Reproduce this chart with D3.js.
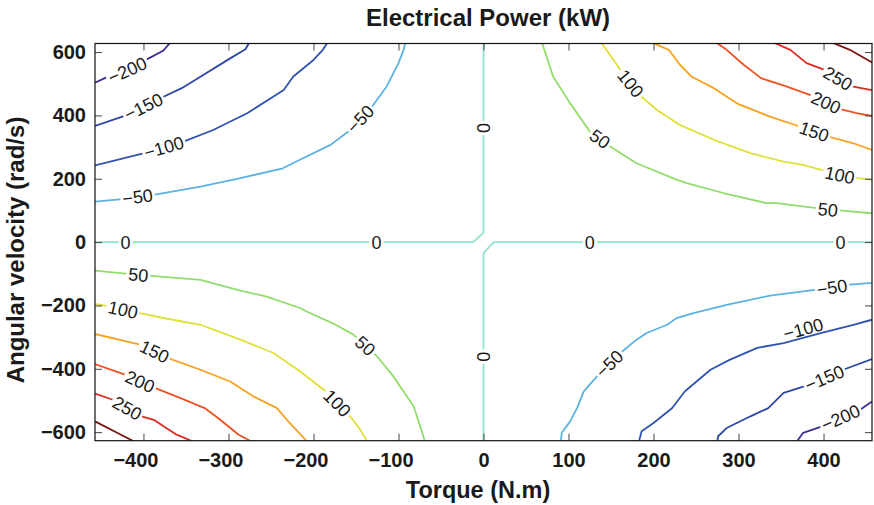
<!DOCTYPE html>
<html>
<head>
<meta charset="utf-8">
<script src="https://cdn.jsdelivr.net/npm/d3@7"></script>
<style>
  body { margin: 0; background: #fff; }
  text { font-family: "Liberation Sans", Arial, Helvetica, sans-serif; }
</style>
</head>
<body>
<svg id="chart" width="874" height="505"></svg>
<script>
// Axis extents: torque (N.m) and angular velocity (rad/s)
const torqueRange = [-457, 457];
const omegaRange = [-627, 627];
const xTicks = [-400, -300, -200, -100, 0, 100, 200, 300, 400];
const yTicks = [-600, -400, -200, 0, 200, 400, 600];

// Iso-power lines of electrical power (kW), points are [torque, omega]
// Generating quadrant: negative torque, positive speed
const pM200_ul = [[-457,503],[-443,521],[-396,577],[-377,604],[-369,628]];
const pM150_ul = [[-457,367],[-423,398],[-377,458],[-355,486],[-333,522],[-298,580],[-280,609],[-276,628]];
const pM100_ul = [[-457,242],[-399,281],[-353,317],[-318,354],[-278,407],[-235,480],[-224,522],[-200,575],[-189,607],[-184,628]];
const pM50_ul  = [[-457,128],[-425,136],[-388,149],[-333,175],[-286,202],[-236,233],[-216,260],[-180,307],[-159,349],[-131,428],[-114,491],[-100,565],[-94,607],[-92,628]];
// Zero-power lines along the axes
const p0_a = [[-457,0],[-12,0],[0,30],[0,628]];
const p0_b = [[0,-628],[0,-35],[12,0],[457,0]];
// Motoring quadrant: positive torque, positive speed
const p50_ur  = [[69,628],[82,522],[102,438],[125,349],[149,302],[180,249],[227,197],[239,186],[282,155],[333,123],[345,123],[392,107],[418,100],[457,91]];
const p100_ur = [[139,628],[153,575],[161,543],[186,459],[204,417],[231,370],[271,323],[314,281],[353,254],[376,244],[404,223],[441,202],[457,197]];
const p150_ur = [[200,628],[218,607],[231,560],[245,522],[271,486],[298,438],[337,396],[372,365],[406,333],[435,312],[457,291]];
const p200_ur = [[275,628],[286,607],[306,560],[327,517],[357,491],[384,465],[422,418],[439,407],[457,398]];
const p250_ur = [[343,628],[361,607],[380,565],[402,543],[435,491],[457,480]];
const p300_ur = [[412,628],[431,607],[457,567]];
// Motoring quadrant: negative torque, negative speed
const p50_ll  = [[-457,-90],[-418,-100],[-394,-106],[-333,-119],[-286,-153],[-255,-172],[-216,-208],[-208,-219],[-176,-258],[-153,-292],[-125,-361],[-106,-424],[-82,-519],[-69,-628]];
const p100_ll = [[-457,-195],[-443,-201],[-404,-224],[-372,-242],[-333,-261],[-286,-308],[-247,-350],[-216,-408],[-188,-466],[-157,-550],[-145,-592],[-137,-628]];
const p150_ll = [[-457,-290],[-404,-324],[-371,-366],[-333,-403],[-298,-440],[-271,-487],[-243,-524],[-228,-571],[-208,-628]];
const p200_ll = [[-457,-385],[-421,-419],[-386,-461],[-357,-492],[-328,-524],[-310,-560],[-288,-608],[-274,-628]];
const p250_ll = [[-457,-478],[-437,-497],[-402,-550],[-388,-561],[-361,-608],[-343,-628]];
const p300_ll = [[-457,-566],[-431,-602],[-412,-628]];
// Generating quadrant: positive torque, negative speed
const pM50_lr  = [[457,-129],[427,-135],[392,-150],[337,-169],[286,-198],[247,-224],[227,-240],[216,-261],[192,-287],[180,-308],[161,-350],[135,-419],[118,-471],[110,-524],[102,-566],[92,-602],[91,-628]];
const pM100_lr = [[457,-245],[435,-261],[400,-285],[353,-319],[322,-334],[290,-371],[267,-403],[237,-471],[222,-524],[200,-571],[186,-597],[183,-628]];
const pM150_lr = [[457,-369],[423,-403],[378,-455],[353,-476],[335,-524],[314,-550],[286,-587],[276,-613],[275,-628]];
const pM200_lr = [[457,-503],[443,-529],[400,-580],[376,-602],[369,-628]];

// Contour levels (kW) and the line sets belonging to each level
const levels = [-200, -150, -100, -50, 0, 50, 100, 150, 200, 250, 300];
const levelLines = [
  [pM200_ul, pM200_lr],
  [pM150_ul, pM150_lr],
  [pM100_ul, pM100_lr],
  [pM50_ul, pM50_lr],
  [p0_a, p0_b],
  [p50_ur, p50_ll],
  [p100_ur, p100_ll],
  [p150_ur, p150_ll],
  [p200_ur, p200_ll],
  [p250_ur, p250_ll],
  [p300_ur, p300_ll]
];
const levelColors = ["#3b2f95", "#2e47a7", "#3053b3", "#5cb2e2", "#90e2d2", "#92dc6c",
                     "#e0e03a", "#f7a21e", "#ef5222", "#db2b1f", "#7d1414"];

// Inline contour labels: [level, torque, omega]
const contourLabels = [
  [-200,-419,543], [-150,-400,428], [-100,-376,299], [-50,-407,143], [-50,-145,389],
  [0,-421,0], [0,-126,0], [0,125,0], [0,420,0], [0,0,360], [0,0,-362],
  [100,173,501], [50,137,326], [250,417,517], [200,403,441], [150,389,349], [100,419,212], [50,405,103],
  [50,-406,-103], [100,-424,-213], [150,-387,-345], [200,-404,-440], [250,-419,-524], [50,-139,-327], [100,-172,-508],
  [-50,410,-143], [-50,148,-384], [-100,376,-274], [-150,401,-429], [-200,420,-554]
];

const svg = d3.select("#chart");
const plot = { left: 95, right: 872, top: 43.5, bottom: 440.7 };

const x = d3.scaleLinear().domain(torqueRange).range([plot.left, plot.right]);
const y = d3.scaleLinear().domain(omegaRange).range([plot.bottom, plot.top]);

const fmt = d => (d < 0 ? "\u2212" + Math.abs(d) : String(d));

svg.append("defs").append("clipPath").attr("id", "plotClip")
  .append("rect")
  .attr("x", plot.left).attr("y", plot.top)
  .attr("width", plot.right - plot.left).attr("height", plot.bottom - plot.top);

// Contour lines
const line = d3.line().x(d => x(d[0])).y(d => y(d[1]));
const gLines = svg.append("g").attr("clip-path", "url(#plotClip)");
levels.forEach((lv, i) => {
  levelLines[i].forEach(pts => {
    gLines.append("path")
      .attr("d", line(pts))
      .attr("fill", "none")
      .attr("stroke", levelColors[i])
      .attr("stroke-width", 1.8)
      .attr("stroke-linejoin", "round");
  });
});

// Local direction of the nearest contour segment, in screen space
function labelAngle(lv, t, w) {
  const idx = levels.indexOf(lv);
  const px = x(t), py = y(w);
  let best = Infinity, ang = 0;
  levelLines[idx].forEach(pts => {
    for (let k = 0; k < pts.length - 1; k++) {
      const ax = x(pts[k][0]), ay = y(pts[k][1]);
      const bx = x(pts[k + 1][0]), by = y(pts[k + 1][1]);
      const dx = bx - ax, dy = by - ay;
      const L2 = dx * dx + dy * dy;
      let u = L2 ? ((px - ax) * dx + (py - ay) * dy) / L2 : 0;
      u = Math.max(0, Math.min(1, u));
      const qx = ax + u * dx - px, qy = ay + u * dy - py;
      const dist = qx * qx + qy * qy;
      if (dist < best) { best = dist; ang = Math.atan2(dy, dx) * 180 / Math.PI; }
    }
  });
  if (ang > 90) ang -= 180;
  if (ang <= -90) ang += 180;
  return ang;
}

// Contour labels, each breaking its line with a white gap
const gLabels = svg.append("g");
contourLabels.forEach(([lv, t, w]) => {
  const g = gLabels.append("g")
    .attr("transform", `translate(${x(t)},${y(w)}) rotate(${labelAngle(lv, t, w)})`);
  const bg = g.append("rect").attr("fill", "#fff");
  const txt = g.append("text")
    .attr("text-anchor", "middle")
    .attr("dy", "0.36em")
    .attr("font-size", 18)
    .attr("fill", "#1a1a1a")
    .text(fmt(lv));
  const len = txt.node().getComputedTextLength();
  bg.attr("x", -len / 2 - 2).attr("y", -6).attr("width", len + 4).attr("height", 12);
});

// Axes with inward ticks on all four sides
const tickColor = "#444";
const gx = svg.append("g").attr("transform", `translate(0,${plot.bottom})`)
  .call(d3.axisBottom(x).tickValues(xTicks).tickSizeInner(-7).tickSizeOuter(0)
        .tickPadding(12).tickFormat(fmt));
const gy = svg.append("g").attr("transform", `translate(${plot.left},0)`)
  .call(d3.axisLeft(y).tickValues(yTicks).tickSizeInner(-7).tickSizeOuter(0)
        .tickPadding(9).tickFormat(fmt));
const gxt = svg.append("g").attr("transform", `translate(0,${plot.top})`)
  .call(d3.axisTop(x).tickValues(xTicks).tickSizeInner(-7).tickSizeOuter(0).tickFormat(""));
const gyr = svg.append("g").attr("transform", `translate(${plot.right},0)`)
  .call(d3.axisRight(y).tickValues(yTicks).tickSizeInner(-7).tickSizeOuter(0).tickFormat(""));

[gx, gy, gxt, gyr].forEach(g => {
  g.select(".domain").remove();
  g.selectAll(".tick line").attr("stroke", tickColor).attr("stroke-width", 1);
});
[gx, gy].forEach(g => {
  g.selectAll(".tick text")
    .attr("font-size", 20)
    .attr("font-weight", "bold")
    .attr("fill", "#1a1a1a")
    .style("font-family", "'Liberation Sans', Arial, sans-serif");
});
gx.selectAll(".tick text").attr("dx", d => (d < 0 ? -8 : 0));

// Plot frame
svg.append("rect")
  .attr("x", plot.left).attr("y", plot.top)
  .attr("width", plot.right - plot.left).attr("height", plot.bottom - plot.top)
  .attr("fill", "none").attr("stroke", "#111").attr("stroke-width", 1.2);

// Titles
svg.append("text")
  .attr("x", 488).attr("y", 26)
  .attr("text-anchor", "middle")
  .attr("font-size", 24).attr("font-weight", "bold").attr("fill", "#1a1a1a")
  .text("Electrical Power (kW)");
svg.append("text")
  .attr("x", 478).attr("y", 498)
  .attr("text-anchor", "middle")
  .attr("font-size", 23.5).attr("font-weight", "bold").attr("fill", "#1a1a1a")
  .text("Torque (N.m)");
svg.append("text")
  .attr("transform", "translate(24,250) rotate(-90)")
  .attr("text-anchor", "middle")
  .attr("font-size", 24).attr("font-weight", "bold").attr("fill", "#1a1a1a")
  .text("Angular velocity (rad/s)");
</script>
</body>
</html>
